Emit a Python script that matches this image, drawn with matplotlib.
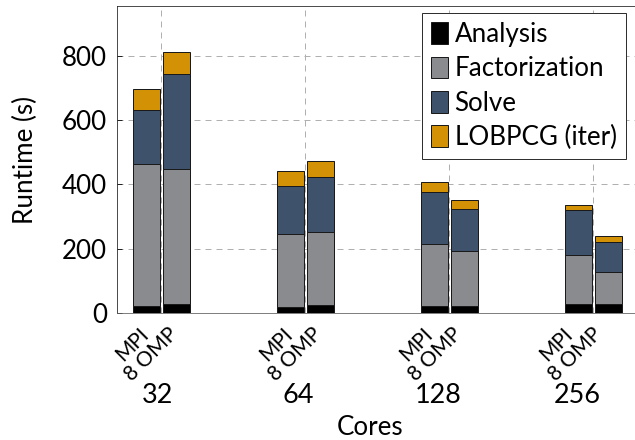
import numpy as np
import matplotlib
matplotlib.use("Agg")
import matplotlib.pyplot as plt

plt.rcParams['font.family'] = ['Lato', 'DejaVu Sans']

# Data (seconds)
cores = ['32', '64', '128', '256']
variants = ['MPI', '8 OMP']
phases = ['Analysis', 'Factorization', 'Solve', 'LOBPCG (iter)']

mpi_analysis = [23, 20, 22, 29]
mpi_fact     = [439, 225, 194, 152]
mpi_solve    = [171, 150, 159, 138]
mpi_lobpcg   = [65, 46, 32, 17]

omp_analysis = [29, 25, 23, 28]
omp_fact     = [420, 226, 169, 98]
omp_solve    = [296, 173, 130, 95]
omp_lobpcg   = [68, 48, 28, 17]

colors = ['#000000', '#8a8b8e', '#3e526c', '#d39106']

# figure at 72 dpi so that points == pixels
fig = plt.figure(figsize=(635 / 72, 440 / 72), dpi=72)
ax = fig.add_axes([117 / 635, 1 - 313 / 440, 523 / 635, 307 / 440])

x = np.arange(len(cores))
off = 0.104
width = 0.1875

series = {
    'MPI': [mpi_analysis, mpi_fact, mpi_solve, mpi_lobpcg],
    '8 OMP': [omp_analysis, omp_fact, omp_solve, omp_lobpcg],
}

for k, v in enumerate(variants):
    xs = x + (-off if k == 0 else off)
    bottom = np.zeros(len(cores))
    for vals, col, name in zip(series[v], colors, phases):
        ax.bar(xs, vals, width, bottom=bottom, color=col, edgecolor='#1a1a1a',
               linewidth=1.0, label=name if k == 0 else None, zorder=3)
        bottom += np.array(vals)

ax.set_xlim(-0.306, -0.306 + 523 / 144)
ax.set_ylim(0, 955)
ax.set_yticks([0, 200, 400, 600, 800])
ax.set_xticks(x)
ax.set_xticklabels([])
ax.tick_params(axis='x', length=0)
ax.tick_params(axis='y', direction='in', length=5, labelsize=26, pad=10)

ax.grid(True, color='#b0b0b0', linestyle=(0, (6, 5)), linewidth=1.0, zorder=0)
ax.set_axisbelow(True)

for s in ['left', 'top']:
    ax.spines[s].set_color('#202020')
ax.spines['bottom'].set_color('#606060')
ax.spines['right'].set_visible(False)

# rotated variant labels under each bar
shift_px = [0, 0, -4, -8]
for i in range(len(cores)):
    for k, v in enumerate(variants):
        xb = x[i] + (-off if k == 0 else off)
        ax.annotate(v, xy=(xb, 0), xycoords=('data', 'axes fraction'),
                    xytext=(shift_px[i] - 1, -18), textcoords='offset points',
                    rotation=45, rotation_mode='anchor', ha='right', va='center',
                    fontsize=21)

# core count labels
group_px = [-4, -7, -11, -16]
for i, c in enumerate(cores):
    ax.annotate(c, xy=(x[i], 0), xycoords=('data', 'axes fraction'),
                xytext=(group_px[i], -90), textcoords='offset points',
                ha='center', va='baseline', fontsize=27)

fig.text(370 / 635, 1 - 435 / 440, 'Cores', ha='center', va='baseline', fontsize=26)
fig.text(25 / 635, 1 - 160 / 440, 'Runtime (s)', rotation=90, ha='center', va='center',
         fontsize=26)

leg = ax.legend(loc='upper right', bbox_to_anchor=(626 / 635, 1 - 13 / 440),
                bbox_transform=fig.transFigure, borderaxespad=0, fontsize=26,
                handlelength=0.65, handleheight=0.92, handletextpad=0.25,
                labelspacing=0.35, borderpad=0.36, fancybox=False, framealpha=1,
                edgecolor='#303030')
leg.get_frame().set_linewidth(1.0)
leg.set_zorder(5)

fig.savefig('out.png', dpi=72)
